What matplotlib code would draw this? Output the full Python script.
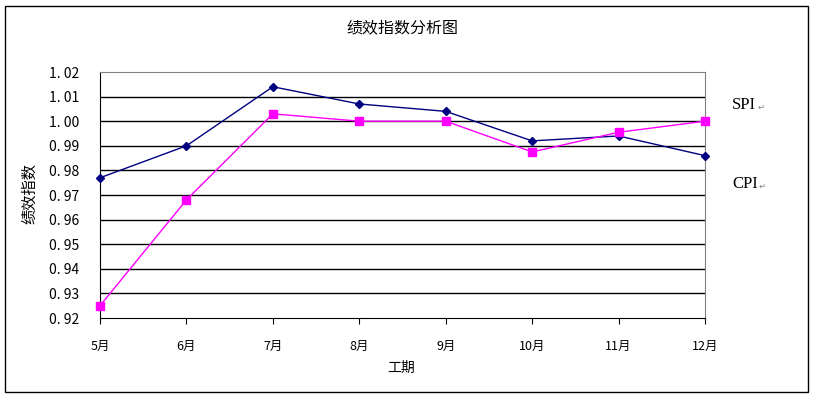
import matplotlib.pyplot as plt
from matplotlib.patches import Rectangle

plt.rcParams['font.family'] = ['Noto Sans CJK SC', 'DejaVu Sans']

months = ['5月', '6月', '7月', '8月', '9月', '10月', '11月', '12月']
blue_vals = [0.977, 0.990, 1.014, 1.007, 1.004, 0.992, 0.994, 0.986]
pink_vals = [0.925, 0.968, 1.003, 1.000, 1.000, 0.9875, 0.9955, 1.000]
y_ticks = [0.92, 0.93, 0.94, 0.95, 0.96, 0.97, 0.98, 0.99, 1.00, 1.01, 1.02]

fig = plt.figure(figsize=(8.14, 3.96), dpi=100)
ax = fig.add_axes([100 / 814, 1 - 318 / 396, 605 / 814, 246 / 396])

x = list(range(len(months)))
ax.plot(x, blue_vals, color='#000080', lw=1, marker='D', ms=4.5, zorder=3, clip_on=False)
ax.plot(x, pink_vals, color='#ff00ff', lw=1, marker='s', ms=5.5, zorder=3, clip_on=False)

ax.set_xlim(0, len(months) - 1)
ax.set_ylim(0.92, 1.02)
ax.set_yticks(y_ticks)
ax.set_yticklabels([f'{v:.2f}'.replace('.', '. ') for v in y_ticks], fontsize=10)
ax.set_xticks(x)
ax.set_xticklabels(months, fontsize=9)
for v in y_ticks[1:-1]:
    ax.axhline(v, color='black', lw=1, zorder=1)

ax.tick_params(axis='y', length=0, pad=15)
ax.tick_params(axis='x', length=4, direction='out', pad=12)
for side in ['top', 'right']:
    ax.spines[side].set_color('#808080')
for side in ['left', 'bottom']:
    ax.spines[side].set_color('black')

fig.text(30 / 814, 1 - 194 / 396, '绩效指数', rotation=90, ha='center', va='center', fontsize=11)
fig.text(401 / 814, 1 - 368 / 396, '工期', ha='center', va='center', fontsize=10)
fig.text(402 / 814, 1 - 28 / 396, '绩效指数分析图', ha='center', va='center', fontsize=11.5)

# side labels
fig.text(732 / 814, 1 - 105 / 396, 'SPI', ha='left', va='center', fontsize=12,
         family=['Liberation Serif', 'DejaVu Sans'])
fig.text(758 / 814, 1 - 107 / 396, '↵', ha='left', va='center', fontsize=6, color='#808080')
fig.text(732 / 814, 1 - 184 / 396, 'CPI', ha='left', va='center', fontsize=12,
         family=['Liberation Serif', 'DejaVu Sans'])
fig.text(759 / 814, 1 - 186 / 396, '↵', ha='left', va='center', fontsize=6, color='#808080')

# outer border
fig.patches.append(Rectangle((5 / 814, 1 - 392 / 396), 803 / 814, 386 / 396,
                             transform=fig.transFigure, fill=False, ec='black', lw=1))

fig.savefig('out.png', dpi=100)
